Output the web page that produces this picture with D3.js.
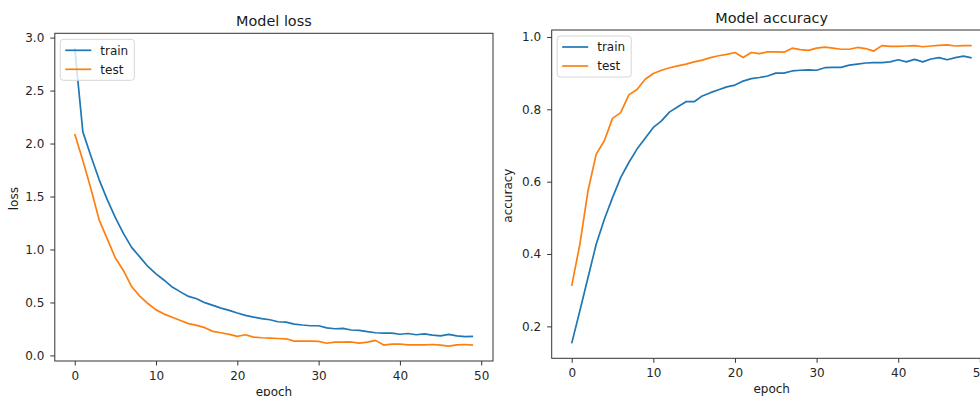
<!DOCTYPE html>
<html>
<head>
<meta charset="utf-8">
<script src="https://cdn.jsdelivr.net/npm/d3@7"></script>
<style>
  body { margin: 0; background: #fff; }
  svg { display: block; font-family: "DejaVu Sans", sans-serif; }
  .tick text { fill: #262626; }
</style>
</head>
<body>
<script>

// values, one per epoch (0..49)
const trainLoss = [2.90, 2.11, 1.88, 1.66, 1.47, 1.30, 1.15, 1.02, 0.93, 0.84,
                   0.77, 0.71, 0.645, 0.60, 0.557, 0.535, 0.498, 0.473, 0.447, 0.425,
                   0.40, 0.378, 0.362, 0.347, 0.337, 0.318, 0.315, 0.296, 0.287, 0.28,
                   0.28, 0.26, 0.252, 0.255, 0.24, 0.237, 0.224, 0.214, 0.21, 0.21,
                   0.20, 0.207, 0.195, 0.204, 0.192, 0.185, 0.198, 0.185, 0.177, 0.18];
const testLoss = [2.09, 1.84, 1.57, 1.28, 1.10, 0.92, 0.80, 0.65, 0.56, 0.49,
                  0.43, 0.39, 0.36, 0.33, 0.30, 0.284, 0.262, 0.227, 0.214, 0.198,
                  0.18, 0.195, 0.173, 0.167, 0.164, 0.16, 0.157, 0.135, 0.135, 0.135,
                  0.132, 0.115, 0.125, 0.125, 0.127, 0.116, 0.125, 0.142, 0.098, 0.107,
                  0.108, 0.10, 0.10, 0.10, 0.103, 0.097, 0.088, 0.10, 0.103, 0.097];
const trainAcc = [0.153, 0.243, 0.335, 0.427, 0.496, 0.556, 0.611, 0.653, 0.69, 0.72,
                  0.75, 0.768, 0.793, 0.807, 0.821, 0.821, 0.837, 0.846, 0.854, 0.862,
                  0.867, 0.878, 0.885, 0.888, 0.892, 0.90, 0.90, 0.906, 0.908, 0.909,
                  0.908, 0.915, 0.916, 0.916, 0.922, 0.925, 0.928, 0.929, 0.929, 0.931,
                  0.937, 0.931, 0.938, 0.931, 0.939, 0.943, 0.937, 0.943, 0.947, 0.942];
const testAcc = [0.312, 0.427, 0.575, 0.676, 0.713, 0.775, 0.791, 0.84, 0.855, 0.883,
                 0.899, 0.908, 0.915, 0.92, 0.925, 0.931, 0.936, 0.943, 0.948, 0.952,
                 0.957, 0.943, 0.957, 0.954, 0.959, 0.959, 0.958, 0.969, 0.965, 0.963,
                 0.969, 0.972, 0.969, 0.966, 0.966, 0.971, 0.968, 0.961, 0.976, 0.974,
                 0.974, 0.975, 0.976, 0.973, 0.975, 0.977, 0.978, 0.975, 0.976, 0.976];

const seriesNames = ['train', 'test'];
const epochTicks = [0, 10, 20, 30, 40, 50];
const lossTicks = [0.0, 0.5, 1.0, 1.5, 2.0, 2.5, 3.0];
const accTicks = [0.2, 0.4, 0.6, 0.8, 1.0];

const colors = ['#1f77b4', '#ff7f0e'];
const width = 980;
const height = 396;

const svg = d3.select('body')
    .append('svg')
        .attr('width', width)
        .attr('height', height);

// matplotlib style autoscale: 5% margin each side
function padded(lo, hi) {
    const m = (hi - lo) * 0.05;
    return [lo - m, hi + m];
}

function drawPanel(p) {
    const n = p.series[0].length;
    const all = p.series.flat();

    const xScale = d3.scaleLinear()
        .domain(padded(0, n - 1))
        .range([p.left, p.right]);

    const yScale = d3.scaleLinear()
        .domain(padded(d3.min(all), d3.max(all)))
        .range([p.bottom, p.top]);

    const g = svg.append('g');

    // x axis
    const xAxis = g.append('g')
        .attr('transform', `translate(0,${p.bottom})`)
        .call(d3.axisBottom(xScale)
            .tickValues(epochTicks)
            .tickFormat(d3.format('d'))
            .tickSize(4.5)
            .tickPadding(5.5));

    // y axis
    const yAxis = g.append('g')
        .attr('transform', `translate(${p.left},0)`)
        .call(d3.axisLeft(yScale)
            .tickValues(p.yTicks)
            .tickFormat(d3.format('.1f'))
            .tickSize(4.5)
            .tickPadding(6));

    [xAxis, yAxis].forEach(a => {
        a.select('.domain').remove();
        a.selectAll('.tick line').attr('stroke', '#333').attr('stroke-width', 1);
        a.selectAll('.tick text').attr('font-size', 12)
            .attr('font-family', '"DejaVu Sans", sans-serif');
    });

    // lines
    const line = d3.line()
        .x((d, i) => xScale(i))
        .y(d => yScale(d));

    g.append('g')
        .selectAll('path')
        .data(p.series)
        .enter()
            .append('path')
                .attr('d', d => line(d))
                .attr('fill', 'none')
                .attr('stroke', (d, i) => colors[i])
                .attr('stroke-width', 1.7)
                .attr('stroke-linejoin', 'round');

    // frame
    g.append('rect')
        .attr('x', p.left)
        .attr('y', p.top)
        .attr('width', p.right - p.left)
        .attr('height', p.bottom - p.top)
        .attr('fill', 'none')
        .attr('stroke', '#333')
        .attr('stroke-width', 1);

    // title
    g.append('text')
        .attr('x', (p.left + p.right) / 2)
        .attr('y', p.top - 7)
        .attr('text-anchor', 'middle')
        .attr('font-size', 14.4)
        .attr('fill', '#1a1a1a')
        .text(p.title);

    // axis labels
    g.append('text')
        .attr('x', (p.left + p.right) / 2)
        .attr('y', p.bottom + 34.5)
        .attr('text-anchor', 'middle')
        .attr('font-size', 12)
        .attr('fill', '#1a1a1a')
        .text('epoch');

    g.append('text')
        .attr('transform', `translate(${p.ylabelX},${(p.top + p.bottom) / 2 + 1.5}) rotate(-90)`)
        .attr('text-anchor', 'middle')
        .attr('font-size', 12)
        .attr('fill', '#1a1a1a')
        .text(p.ylabel);

    // legend
    const lx = p.left + 5.5;
    const ly = p.top + 6;
    const legend = g.append('g');
    legend.append('rect')
        .attr('x', lx)
        .attr('y', ly)
        .attr('width', 74)
        .attr('height', 41)
        .attr('rx', 3)
        .attr('fill', 'rgba(255,255,255,0.8)')
        .attr('stroke', '#d6d6d6');

    seriesNames.forEach((name, i) => {
        const yy = ly + 11 + i * 19;
        legend.append('line')
            .attr('x1', lx + 5).attr('x2', lx + 31)
            .attr('y1', yy).attr('y2', yy)
            .attr('stroke', colors[i])
            .attr('stroke-width', 1.7);
        legend.append('text')
            .attr('x', lx + 40)
            .attr('y', yy)
            .attr('dy', '0.35em')
            .attr('font-size', 12)
            .attr('fill', '#1a1a1a')
            .text(name);
    });
}

drawPanel({
    title: 'Model loss', ylabel: 'loss',
    series: [trainLoss, testLoss], yTicks: lossTicks,
    left: 54.8, right: 493, top: 33.3, bottom: 361, ylabelX: 17.5
});

drawPanel({
    title: 'Model accuracy', ylabel: 'accuracy',
    series: [trainAcc, testAcc], yTicks: accTicks,
    left: 551.7, right: 991.7, top: 30, bottom: 358.3, ylabelX: 512
});

</script>
</body>
</html>
